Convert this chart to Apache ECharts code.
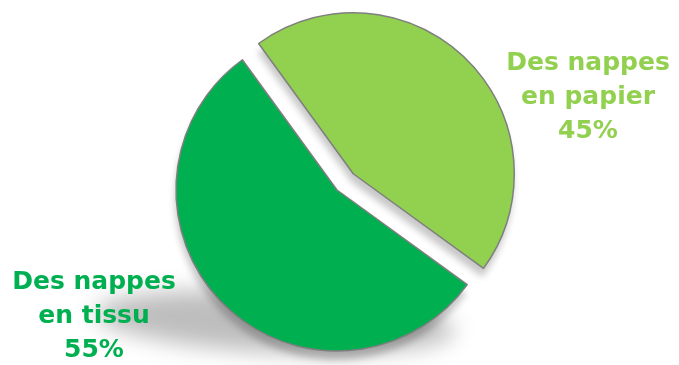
<!DOCTYPE html>
<html>
<head>
<meta charset="utf-8">
<style>
  html, body { margin: 0; padding: 0; background: #ffffff; }
  #chart { width: 679px; height: 365px; }
</style>
<script src="https://cdn.jsdelivr.net/npm/echarts@6/dist/echarts.min.js"></script>
</head>
<body>
<div id="chart"></div>
<script>
// Survey answers: which tablecloths are used
const categories = ['Des nappes\nen papier', 'Des nappes\nen tissu'];
const shares = [45, 55];
const sliceColors = ['#92D050', '#00B050'];
const explodedSlice = [true, false];

const chart = echarts.init(document.getElementById('chart'), null, { renderer: 'canvas' });

// Pie geometry
const pieCenter = [337, 190];
const pieRadius = 161;
const startAngle = 126;
const explodeDistance = 23;

// Where each slice's caption block sits (centre of the text block)
const labelSpots = [
  { x: 588, y: 97 },
  { x: 94, y: 316 }
];

const total = shares.reduce((a, b) => a + b, 0);

// Builds a pie series showing only slice i (the others are transparent placeholders)
function sliceSeries(i, center, withShadow, z) {
  const data = categories.map((n, j) => {
    if (j !== i) {
      return { name: n, value: shares[j], itemStyle: { color: 'rgba(0,0,0,0)', borderWidth: 0 }, label: { show: false } };
    }
    const style = withShadow
      ? {
          color: sliceColors[j],
          borderWidth: 0,
          shadowColor: 'rgba(0,0,0,0.22)',
          shadowBlur: 7,
          shadowOffsetX: -1,
          shadowOffsetY: 9
        }
      : { color: sliceColors[j], borderColor: '#7f7f7f', borderWidth: 1.5 };
    return {
      name: n,
      value: shares[j],
      itemStyle: style,
      label: { show: !withShadow, color: sliceColors[j] }
    };
  });
  return {
    type: 'pie',
    center: center,
    radius: pieRadius,
    startAngle: startAngle,
    clockwise: true,
    avoidLabelOverlap: false,
    silent: true,
    z: z,
    emphasis: { disabled: true },
    label: {
      position: 'outside',
      formatter: '{b}\n{c}%',
      fontFamily: 'DejaVu Sans',
      fontWeight: 'bold',
      fontSize: 25,
      lineHeight: 34,
      align: 'center'
    },
    labelLine: { show: false },
    labelLayout: function (params) {
      const spot = labelSpots[params.dataIndex];
      return { x: spot.x, y: spot.y, align: 'center', verticalAlign: 'middle' };
    },
    data: data
  };
}

// Exploded slices are pushed out along their bisector; the rest keep the common centre.
let angleSoFar = 0;
const series = [];
categories.forEach((name, i) => {
  const sweep = shares[i] / total * 360;
  const mid = (startAngle - angleSoFar - sweep / 2) * Math.PI / 180;
  angleSoFar += sweep;
  const push = explodedSlice[i] ? explodeDistance : 0;
  const center = [pieCenter[0] + push * Math.cos(mid), pieCenter[1] - push * Math.sin(mid)];
  series.push(sliceSeries(i, center, true, 1));
  series.push(sliceSeries(i, center, false, 5));
});

chart.setOption({
  animation: false,
  backgroundColor: '#ffffff',
  graphic: [
    {
      // soft ground shadow under the pie; the fill sits off-canvas so only its blurred shadow shows
      type: 'circle',
      silent: true,
      z: -10,
      x: 275 - 3000,
      y: 322,
      rotation: -0.05,
      scaleX: 1,
      scaleY: 0.17,
      shape: { cx: 0, cy: 0, r: 180 },
      style: {
        fill: 'rgba(0,0,0,1)',
        shadowColor: 'rgba(0,0,0,0.26)',
        shadowBlur: 22,
        shadowOffsetX: 3000,
        shadowOffsetY: 0
      }
    }
  ],
  series: series
});
</script>
</body>
</html>
